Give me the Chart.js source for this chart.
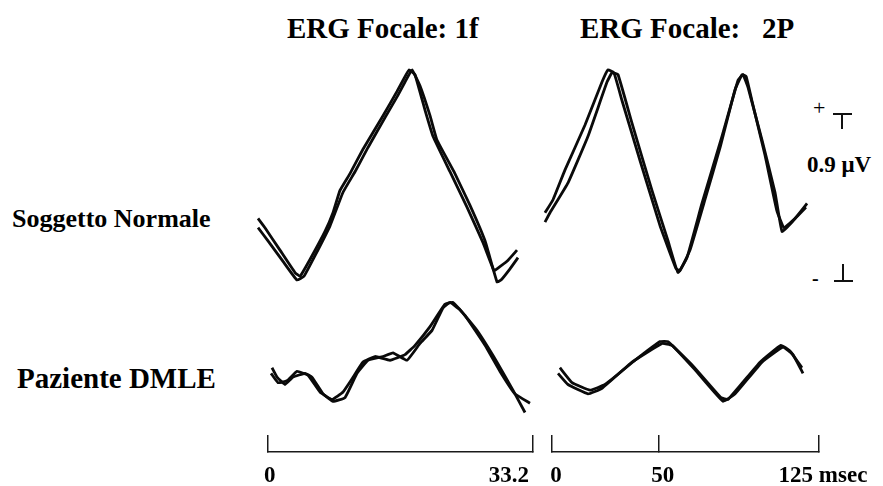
<!DOCTYPE html>
<html>
<head>
<meta charset="utf-8">
<script src="https://cdn.jsdelivr.net/npm/chart.js@4"></script>
<style>
    body { margin: 0; width: 883px; height: 486px; background: #fff; position: relative; overflow: hidden; }
    canvas { position: absolute; }
    .txt { position: absolute; white-space: pre; line-height: 1; color: #000;
           font-family: "Liberation Serif", "Times New Roman", serif; font-weight: bold; }
    .bar { position: absolute; background: #111; }
</style>
</head>
<body>

<div class="txt" style="left:287px; top:14px; font-size:29px;">ERG Focale: 1f</div>
<div class="txt" style="left:580px; top:14px; font-size:29px;">ERG Focale:   2P</div>
<div class="txt" style="left:12px; top:206px; font-size:26px;">Soggetto Normale</div>
<div class="txt" style="left:17px; top:364px; font-size:29px;">Paziente DMLE</div>

<!-- amplitude calibration: + T 0.9 uV - ⊥ -->
<div class="txt" style="left:813px; top:97px; font-size:22px; font-weight:normal;">+</div>
<div class="bar" style="left:833px; top:113px; width:19px; height:2px;"></div>
<div class="bar" style="left:841px; top:113px; width:2px; height:16px;"></div>
<div class="txt" style="left:807px; top:153px; font-size:23px;">0.9 μV</div>
<div class="txt" style="left:812px; top:268px; font-size:20px;">-</div>
<div class="bar" style="left:842px; top:264px; width:2px; height:18px;"></div>
<div class="bar" style="left:834px; top:280px; width:19px; height:2px;"></div>

<canvas id="c1fNorm" width="320" height="250" style="left:240px; top:50px;"></canvas>
<canvas id="c2PNorm" width="348" height="250" style="left:535px; top:50px;"></canvas>
<canvas id="c1fDmle" width="320" height="150" style="left:240px; top:290px;"></canvas>
<canvas id="c2PDmle" width="348" height="150" style="left:535px; top:290px;"></canvas>
<canvas id="s1f" width="346" height="100" style="left:226px; top:402px;"></canvas>
<canvas id="s2P" width="404" height="100" style="left:500px; top:402px;"></canvas>

<script>
// time in msec, amplitude in microvolt (two overlaid sweeps per recording)

// Soggetto Normale, 1f
let norm1fA_t  = [-1.25, -0.38, 1.50, 3.38, 4.01, 5.26, 7.14, 8.14, 9.02, 10.27, 11.90, 14.41, 16.16, 17.04, 17.66, 18.41, 19.67, 20.67, 22.80, 24.93, 26.94, 28.31, 28.69, 29.94, 31.20];
let norm1fA_uv = [0.33, 0.28, 0.16, 0.04, 0.02, 0.11, 0.26, 0.36, 0.48, 0.57, 0.70, 0.88, 1.01, 1.08, 1.125, 1.10, 0.91, 0.77, 0.58, 0.39, 0.20, 0.05, 0.06, 0.10, 0.16];
let norm1fB_t  = [-1.25, 0, 1.88, 3.63, 4.51, 5.89, 7.77, 9.40, 10.90, 12.53, 14.66, 16.29, 17.16, 18.04, 19.04, 20.30, 21.17, 23.30, 25.31, 27.19, 28.69, 29.19, 30.32, 31.32];
let norm1fB_uv = [0.28, 0.21, 0.10, 0.0, 0.02, 0.13, 0.29, 0.47, 0.58, 0.71, 0.87, 0.99, 1.06, 1.125, 1.04, 0.88, 0.75, 0.58, 0.40, 0.21, -0.01, 0.0, 0.06, 0.12];

// Soggetto Normale, 2P
let norm2PA_t  = [-3.28, -0.94, 7.49, 16.85, 25.75, 28.09, 30.9, 37.45, 46.8, 54.3, 58.99, 63.2, 70.2, 79.6, 87.1, 89.4, 91.8, 98.3, 104.4, 107.7, 112.4, 119.4];
let norm2PA_uv = [0.31, 0.36, 0.52, 0.77, 1.06, 1.11, 1.10, 0.84, 0.48, 0.21, 0.04, 0.12, 0.41, 0.77, 1.07, 1.10, 1.03, 0.75, 0.47, 0.26, 0.31, 0.41];
let norm2PB_t  = [-3.28, 0.47, 6.09, 15.45, 23.4, 26.2, 29.0, 32.8, 41.2, 50.6, 58.1, 59.9, 64.6, 71.6, 78.7, 85.7, 89.0, 90.9, 93.6, 99.7, 105.3, 108.6, 113.8, 118.9];
let norm2PB_uv = [0.36, 0.43, 0.59, 0.83, 1.06, 1.125, 1.11, 0.96, 0.64, 0.29, 0.06, 0.05, 0.16, 0.43, 0.71, 1.02, 1.10, 1.09, 0.96, 0.67, 0.37, 0.28, 0.33, 0.39];

// Paziente DMLE, 1f
let dmle1fA_t  = [0.50, 1.13, 2.13, 3.13, 4.64, 5.50, 6.90, 8.14, 9.65, 11.15, 12.53, 14.41, 15.66, 17.41, 19.04, 20.55, 21.92, 22.80, 24.05, 26.18, 28.69, 30.69, 32.20];
let dmle1fA_uv = [0.28, 0.23, 0.19, 0.23, 0.25, 0.23, 0.14, 0.10, 0.12, 0.25, 0.32, 0.34, 0.36, 0.32, 0.41, 0.48, 0.60, 0.63, 0.59, 0.48, 0.31, 0.16, 0.04];
let dmle1fB_t  = [0.38, 1.25, 2.38, 3.63, 5.01, 6.51, 8.02, 9.40, 10.52, 11.90, 13.40, 15.28, 17.16, 18.42, 20.30, 22.17, 23.18, 24.68, 27.19, 29.07, 30.94, 32.82];
let dmle1fB_uv = [0.25, 0.20, 0.21, 0.26, 0.24, 0.15, 0.11, 0.15, 0.22, 0.31, 0.34, 0.32, 0.35, 0.40, 0.50, 0.62, 0.63, 0.56, 0.40, 0.26, 0.14, 0.09];

// Paziente DMLE, 2P
let dmle2PA_t  = [2.81, 7.49, 16.85, 23.4, 37.45, 51.5, 56.2, 66.9, 80.1, 85.7, 98.3, 108.1, 112.8, 117.5];
let dmle2PA_uv = [0.25, 0.19, 0.14, 0.17, 0.31, 0.41, 0.40, 0.27, 0.10, 0.14, 0.31, 0.39, 0.35, 0.25];
let dmle2PB_t  = [3.7, 9.4, 17.8, 24.8, 38.9, 50.6, 54.3, 66.0, 79.1, 82.4, 97.4, 107.2, 111.4, 117.0];
let dmle2PB_uv = [0.28, 0.20, 0.16, 0.19, 0.32, 0.42, 0.42, 0.29, 0.12, 0.11, 0.31, 0.40, 0.37, 0.28];

// time scale bars
let ticks1f = [0, 33.2];
let labels1f = ["0", "33.2"];
let ticks2P = [0, 50, 125];
let labels2P = ["0", "50", "125 msec"];

// layout: pixel where t=0 / 0 uV sits, pixels per msec, pixels per microvolt
let PX_PER_UV = 186.7;
let col1f = { left: 240, width: 320, zeroPx: 268, pxPerMs: 265 / 33.2 };
let col2P = { left: 535, width: 348, zeroPx: 552, pxPerMs: 267 / 125 };
let bar1f = Object.assign({}, col1f, { left: 226, width: 346 });
let bar2P = Object.assign({}, col2P, { left: 500, width: 404 });
let rowNorm = { top: 50, height: 250, zeroPx: 280 };
let rowDmle = { top: 290, height: 150, zeroPx: 420 };

function points(t, v)
{
    return t.map(function(x, i) { return { x: x, y: v[i] }; });
}

function xRange(col)
{
    let min = -(col.zeroPx - col.left) / col.pxPerMs;
    return { min: min, max: min + col.width / col.pxPerMs };
}

function yRange(row)
{
    let max = (row.zeroPx - row.top) / PX_PER_UV;
    return { min: max - row.height / PX_PER_UV, max: max };
}

function waveChart(id, col, row, sweepA, sweepB)
{
    let xr = xRange(col), yr = yRange(row);
    let ctx = document.getElementById(id).getContext("2d");
    return new Chart(ctx,
    {
        type: 'line',
        data:
        {
            datasets: [
                { data: sweepA, borderColor: "#0a0a0a", borderWidth: 2.8, tension: 0.1, pointRadius: 0, fill: false },
                { data: sweepB, borderColor: "#0a0a0a", borderWidth: 2.8, tension: 0.1, pointRadius: 0, fill: false }
            ]
        },
        options:
        {
            responsive: false,
            animation: false,
            devicePixelRatio: 1,
            layout: { padding: 0 },
            plugins: { legend: { display: false }, tooltip: { enabled: false } },
            scales:
            {
                x: { type: 'linear', display: false, min: xr.min, max: xr.max },
                y: { type: 'linear', display: false, min: yr.min, max: yr.max }
            }
        }
    });
}

// time bar: axis line with tick marks pointing up (negative tick length).
// the axis box is capped at half the canvas height, so the line sits at mid canvas
function scaleBar(id, col, tickVals, tickText, align, shift)
{
    let end = tickVals[tickVals.length - 1];
    let ctx = document.getElementById(id).getContext("2d");
    return new Chart(ctx,
    {
        type: 'scatter',
        data: { datasets: [{ data: [] }] },
        options:
        {
            responsive: false,
            animation: false,
            devicePixelRatio: 1,
            layout: { padding: { left: col.zeroPx - col.left, right: col.left + col.width - (col.zeroPx + end * col.pxPerMs), top: 0, bottom: 0 } },
            plugins: { legend: { display: false }, tooltip: { enabled: false } },
            scales:
            {
                x:
                {
                    type: 'linear',
                    min: 0,
                    max: end,
                    afterBuildTicks: function(axis) { axis.ticks = tickVals.map(function(v) { return { value: v }; }); },
                    grid: { color: "#1a1a1a", lineWidth: 1.5, drawTicks: true, tickLength: -17, drawOnChartArea: false },
                    border: { display: true, color: "#1a1a1a", width: 1.5 },
                    ticks:
                    {
                        autoSkip: false,
                        maxRotation: 0,
                        padding: 27,
                        align: align,
                        labelOffset: shift,
                        color: "#000",
                        font: { family: "Liberation Serif", weight: 'bold', size: 23 },
                        callback: function(value, index) { return tickText[index]; }
                    }
                },
                y: { display: false, min: 0, max: 1 }
            }
        }
    });
}

waveChart("c1fNorm", col1f, rowNorm, points(norm1fA_t, norm1fA_uv), points(norm1fB_t, norm1fB_uv));
waveChart("c2PNorm", col2P, rowNorm, points(norm2PA_t, norm2PA_uv), points(norm2PB_t, norm2PB_uv));
waveChart("c1fDmle", col1f, rowDmle, points(dmle1fA_t, dmle1fA_uv), points(dmle1fB_t, dmle1fB_uv));
waveChart("c2PDmle", col2P, rowDmle, points(dmle2PA_t, dmle2PA_uv), points(dmle2PB_t, dmle2PB_uv));
scaleBar("s1f", bar1f, ticks1f, labels1f, 'inner', -4);
scaleBar("s2P", bar2P, ticks2P, labels2P, 'center', 4);
</script>
</body>
</html>
